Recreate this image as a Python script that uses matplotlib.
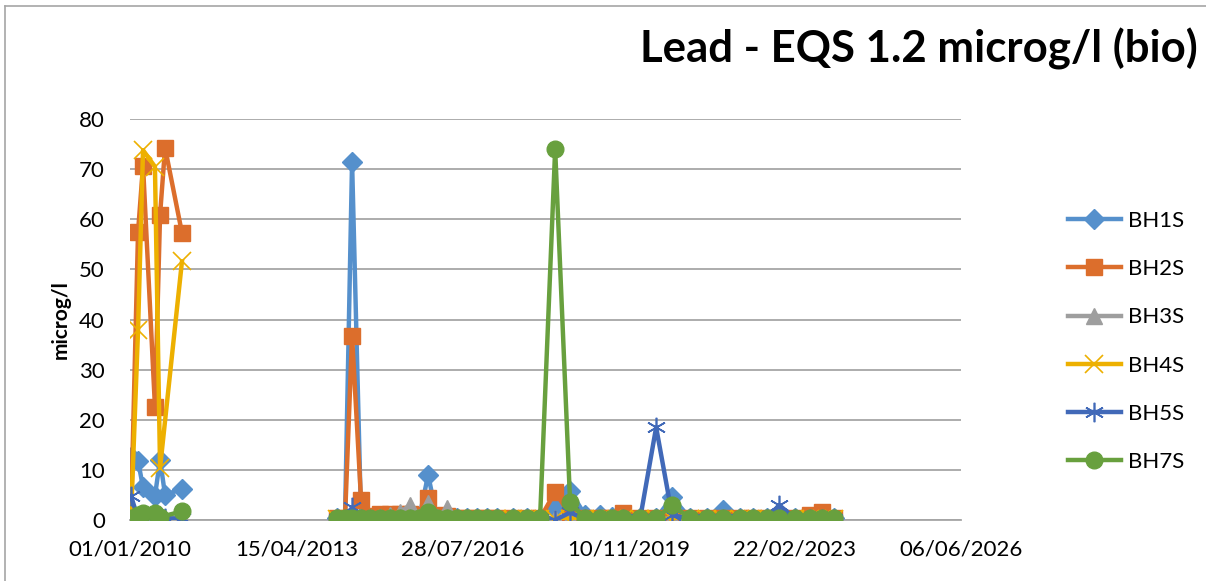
import numpy as np
import matplotlib.pyplot as plt
import matplotlib.dates as mdates
from datetime import date, timedelta

plt.rcParams['font.family'] = ['Lato', 'DejaVu Sans']

# sampling dates, first campaign (2010) and the later monitoring run
dates_a = ['2010-01-08', '2010-02-28', '2010-04-05', '2010-06-30', '2010-08-06',
           '2010-09-11', '2011-01-11']
dates_b = ['2014-02-04', '2014-04-02', '2014-05-23', '2014-07-27', '2014-09-30',
           '2014-12-11', '2015-02-21', '2015-05-04', '2015-07-16', '2015-09-19',
           '2015-11-23', '2016-01-27', '2016-04-08', '2016-06-19', '2016-08-30',
           '2016-11-10', '2017-01-22', '2017-04-04', '2017-07-28', '2017-11-06',
           '2018-02-08', '2018-05-28', '2018-09-13', '2018-12-30', '2019-04-18',
           '2019-07-13', '2019-10-01', '2020-01-31', '2020-05-26', '2020-09-18',
           '2021-01-26', '2021-05-29', '2021-09-22', '2022-01-22', '2022-04-26',
           '2022-08-05', '2022-10-31', '2023-02-23', '2023-06-12', '2023-09-06',
           '2023-12-02']

nan = np.nan
series = ['BH1S', 'BH2S', 'BH3S', 'BH4S', 'BH5S', 'BH7S']

bh1s_a = [12.6, 11.8, 6.5, 4.8, 12.0, 5.0, 6.2]
bh2s_a = [0.5, 57.5, 70.7, 22.6, 60.9, 74.3, 57.3]
bh3s_a = [0.3, 0.3, 0.3, 0.3, 0.3, 0.3, 0.3]
bh4s_a = [0.3, 37.9, 73.8, 70.5, 10.4, nan, 51.6]
bh5s_a = [4.8, 0.3, 0.3, 0.3, 0.3, 0.3, 0.3]
bh7s_a = [0.4, 1.0, 1.4, 1.4, 0.6, nan, 1.7]

bh1s_b = [0.3, 0.3, 71.5, 0.3, 0.3, 0.3, 0.3, 0.3, 0.3, 0.3, 9.0, 0.3, 0.3, 0.3,
          0.3, 0.3, 0.3, 0.3, 0.3, 0.3, 0.3, 2.4, 5.8, 1.0, 1.0, 0.5, 0.5, 0.3,
          0.3, 4.6, 0.3, 0.3, 2.0, 0.3, 0.3, 0.3, 0.3, 0.3, 0.3, 0.3, 0.3]
bh2s_b = [0.3, 0.3, 36.7, 4.0, 0.8, 1.2, 1.2, 1.2, 1.2, 1.0, 4.3, 1.0, 0.8, 0.3,
          0.3, 0.3, 0.3, 0.3, 0.3, 0.3, 0.3, 5.6, 1.0, 0.3, 0.3, 0.3, 1.3, 0.3,
          0.3, 0.3, 0.3, 0.3, 0.3, 0.3, 0.3, 0.3, 0.3, 0.3, 1.0, 1.5, 0.3]
bh3s_b = [0.3, 0.3, 0.3, 0.3, 0.3, 0.5, 1.0, 1.5, 3.0, 0.5, 3.3, 0.5, 2.3, 0.3,
          0.3, 0.3, 0.3, 0.3, 0.3, 0.3, 0.3, 0.3, 0.3, 0.3, 0.3, 0.3, 0.3, 0.3,
          0.3, 0.3, 0.3, 0.3, 0.3, 0.3, 0.3, 0.3, 0.3, 0.3, 0.3, 0.3, 0.3]
bh4s_b = [0.2] * 41
bh5s_b = [0.2, 0.2, 2.5, 0.2, 0.2, 0.2, 0.2, 0.2, 0.2, 0.2, 0.2, 0.2, 0.2, 0.2,
          0.2, 0.2, 0.2, 0.2, 0.2, 0.2, 0.2, 0.0, 1.5, 0.2, 0.2, 0.2, 0.2, 0.2,
          18.5, 1.0, 0.2, 0.2, 0.2, 0.2, 0.2, 0.2, 3.0, 0.2, 0.2, 0.2, 0.2]
bh7s_b = [0.3, 0.3, 0.3, 0.3, 0.3, 0.3, 0.3, 0.3, 0.3, 0.3, 1.5, 0.3, 0.3, 0.3,
          0.3, 0.3, 0.3, 0.3, 0.3, 0.3, 0.3, 74.0, 3.5, 0.3, 0.3, 0.3, 0.3, 0.3,
          0.3, 3.0, 0.3, 0.3, 0.3, 0.3, 0.3, 0.3, 0.3, 0.3, 0.3, 0.3, 0.3]

vals_a = [bh1s_a, bh2s_a, bh3s_a, bh4s_a, bh5s_a, bh7s_a]
vals_b = [bh1s_b, bh2s_b, bh3s_b, bh4s_b, bh5s_b, bh7s_b]

colors = ['#5590CC', '#DC6E2C', '#9E9E9E', '#EDB000', '#4169B8', '#68A03E']
markers = ['D', 's', '^', 'x', (6, 2, 0), 'o']
msizes = [10, 11, 11, 13, 14, 12]

fig = plt.figure(figsize=(12.06, 5.81), dpi=100)
ax = fig.add_axes([0.1078, 0.105, 0.6892, 0.69])

da = np.array(dates_a, dtype='datetime64[D]')
db = np.array(dates_b, dtype='datetime64[D]')

for i, name in enumerate(series):
    for d, v in ((da, vals_a[i]), (db, vals_b[i])):
        v = np.array(v, dtype=float)
        ok = ~np.isnan(v)
        mk = markers[i]
        thin = mk == 'x' or isinstance(mk, tuple)
        ax.plot(d[ok], v[ok], color=colors[i], lw=3.2, marker=mk,
                ms=msizes[i], mew=1.2 if thin else 1,
                mfc=colors[i], mec=colors[i], label=name if d is da else None,
                solid_joinstyle='round', zorder=3 + i)

start = date(2010, 1, 1)
ticks = [start + timedelta(days=1200 * k) for k in range(6)]
ax.set_xlim(ticks[0], ticks[-1])
ax.set_xticks(ticks)
ax.xaxis.set_major_formatter(mdates.DateFormatter('%d/%m/%Y'))
ax.set_ylim(0, 80)
ax.set_yticks(range(0, 81, 10))
ax.grid(axis='y', color='#A6A6A6', lw=1.3)
ax.set_axisbelow(True)
for s in ['top', 'right', 'left']:
    ax.spines[s].set_visible(False)
ax.spines['bottom'].set_color('#A6A6A6')
ax.spines['bottom'].set_linewidth(1.3)
ax.tick_params(length=0, labelsize=16)
ax.tick_params(axis='x', pad=14)
ax.tick_params(axis='y', pad=18)
ax.set_ylabel('microg/l', fontsize=15, fontweight='bold', labelpad=6)

fig.text(0.993, 0.915, 'Lead - EQS 1.2 microg/l (bio)', ha='right', va='center',
         fontsize=31.5, fontweight='bold')

leg = ax.legend(loc='center left', bbox_to_anchor=(1.128, 0.445), frameon=False,
                fontsize=16, labelspacing=1.27, handlelength=2.4,
                handletextpad=0.3, borderaxespad=0, borderpad=0)

# chart border
fig.add_artist(plt.Line2D([0.004, 1], [0.99, 0.99], color='#A6A6A6', lw=1.2))
fig.add_artist(plt.Line2D([0.004, 0.004], [0, 0.99], color='#A6A6A6', lw=1.2))

fig.savefig('out.png', dpi=100)
